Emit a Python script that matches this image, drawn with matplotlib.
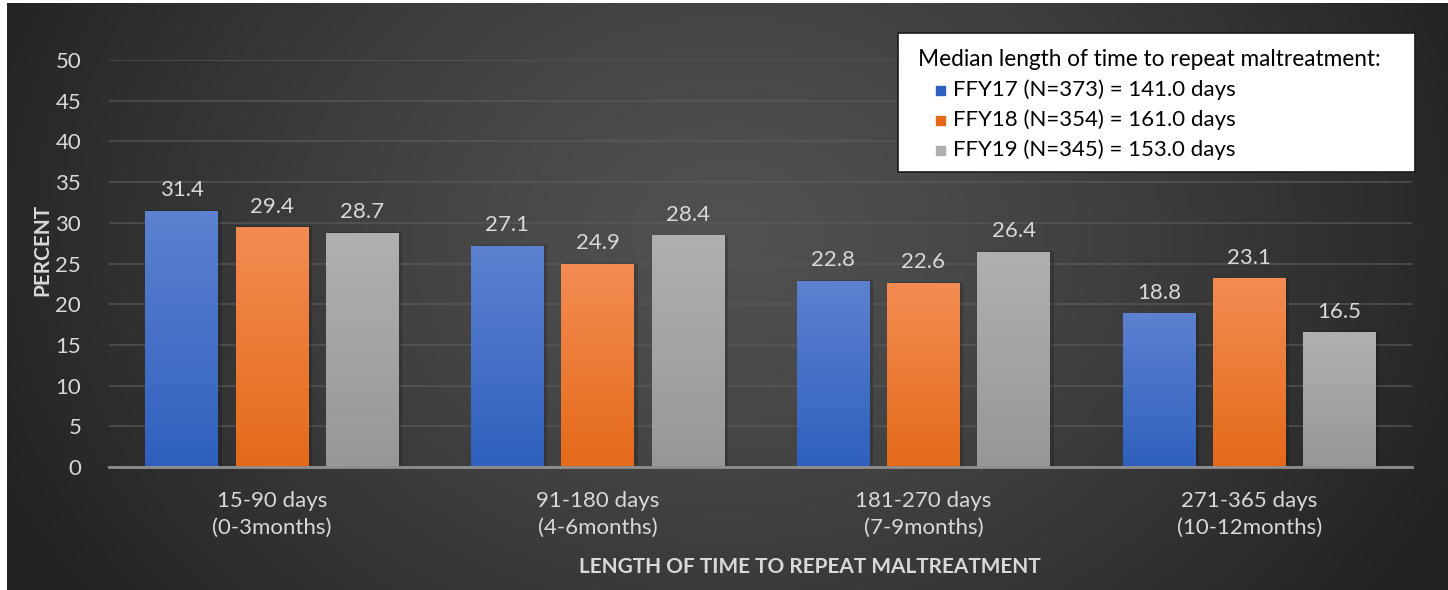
import matplotlib.pyplot as plt
import numpy as np
from matplotlib.patches import Rectangle

plt.rcParams['font.family'] = ['Lato', 'DejaVu Sans']

categories = ['15-90 days\n(0-3months)', '91-180 days\n(4-6months)',
              '181-270 days\n(7-9months)', '271-365 days\n(10-12months)']
series = ['FFY17 (N=373) = 141.0 days', 'FFY18 (N=354) = 161.0 days',
          'FFY19 (N=345) = 153.0 days']
ffy17 = [31.4, 27.1, 22.8, 18.8]
ffy18 = [29.4, 24.9, 22.6, 23.1]
ffy19 = [28.7, 28.4, 26.4, 16.5]
legend_title = 'Median length of time to repeat maltreatment:'

# top / bottom colours of each bar gradient
grads = [('#5c81d0', '#2f60be'), ('#f38c52', '#e46a1a'), ('#b0b0b0', '#979797')]
txt = '#d9d9d9'

W, H = 1448, 590
fig = plt.figure(figsize=(W / 100, H / 100), dpi=100)
fig.patch.set_facecolor('white')

# radial dark background
bg = fig.add_axes([7 / W, 0, 1 - 7 / W, 1 - 3 / H], zorder=-5)
yy, xx = np.mgrid[0:587, 0:1441]
r = np.sqrt(((xx - 720) / 800.0) ** 2 + ((yy - 230) / 620.0) ** 2)
r = np.clip(r, 0, 1)
v = (0x51 - (0x51 - 0x22) * r ** 1.3) / 255.0
bg.imshow(np.dstack([v, v, v]), aspect='auto', extent=[0, 1, 0, 1])
bg.axis('off')

ax = fig.add_axes([109 / W, 1 - 467 / H, 1303 / W, 407 / H])
ax.set_facecolor('none')

x = np.arange(len(categories))
w = 0.222
off = 0.277
for i, (vals, (ctop, cbot)) in enumerate(zip([ffy17, ffy18, ffy19], grads)):
    bars = ax.bar(x + (i - 1) * off, vals, w, color='none', zorder=3)
    c1 = np.array(plt.matplotlib.colors.to_rgb(ctop))
    c2 = np.array(plt.matplotlib.colors.to_rgb(cbot))
    t = np.linspace(0, 1, 100)[:, None]
    img = (c1 * (1 - t) + c2 * t)[:, None, :]
    for b, val in zip(bars, vals):
        x0, wd, h = b.get_x(), b.get_width(), b.get_height()
        # soft shadow
        ax.add_patch(Rectangle((x0 + 0.006, 0), wd + 0.006, h + 0.15,
                               color='black', alpha=0.18, zorder=2, lw=0))
        ax.imshow(img, extent=[x0, x0 + wd, 0, h], aspect='auto', zorder=3)
        ax.annotate('%.1f' % val, (b.get_x() + wd / 2, h), xytext=(0, 8),
                    textcoords='offset points', ha='center', va='bottom',
                    color=txt, fontsize=16)

ax.set_xlim(-0.5, 3.5)
ax.set_ylim(0, 50)
ax.set_yticks(np.arange(0, 51, 5))
ax.set_xticks(x)
ax.set_xticklabels(categories, linespacing=1.45)
ax.tick_params(axis='both', length=0, colors=txt, labelsize=16)
ax.tick_params(axis='y', pad=20)
ax.tick_params(axis='x', pad=17)
ax.grid(axis='y', color='#5a5a5a', lw=1.3, alpha=0.7, zorder=0)
ax.set_axisbelow(True)
for s in ['top', 'right', 'left']:
    ax.spines[s].set_visible(False)
ax.spines['bottom'].set_color('#8f8f8f')
ax.spines['bottom'].set_linewidth(2)
ax.spines['bottom'].set_zorder(4)

ax.set_ylabel('PERCENT', color=txt, fontsize=15, fontweight='bold')
ax.set_xlabel('LENGTH OF TIME TO REPEAT MALTREATMENT', color=txt,
              fontsize=15, fontweight='bold')
ax.yaxis.set_label_coords(-0.0514, 0.533)
ax.xaxis.set_label_coords(0.538, -0.246)
ax.xaxis.label.set_va('center')
ax.yaxis.label.set_va('center')

# legend box
fig.patches.append(Rectangle((898 / W, 1 - 172 / H), 517 / W, 139 / H,
                             transform=fig.transFigure, facecolor='white',
                             edgecolor='#1a1a1a', lw=1.2, zorder=10))
fig.text(918 / W, 1 - 59 / H, legend_title, fontsize=16.3, color='black',
         va='center', ha='left', zorder=11)
for j, (name, (ctop, cbot)) in enumerate(zip(series, grads)):
    yc = 1 - (90 + 30 * j) / H
    fig.patches.append(Rectangle((936 / W, yc - 4.5 / H), 9 / W, 9 / H,
                                 transform=fig.transFigure, color=cbot if j < 2 else ctop,
                                 zorder=11))
    fig.text(953 / W, yc, name, fontsize=16, color='black', va='center',
             ha='left', zorder=11)

plt.savefig('out.png', dpi=100, facecolor=fig.get_facecolor())
